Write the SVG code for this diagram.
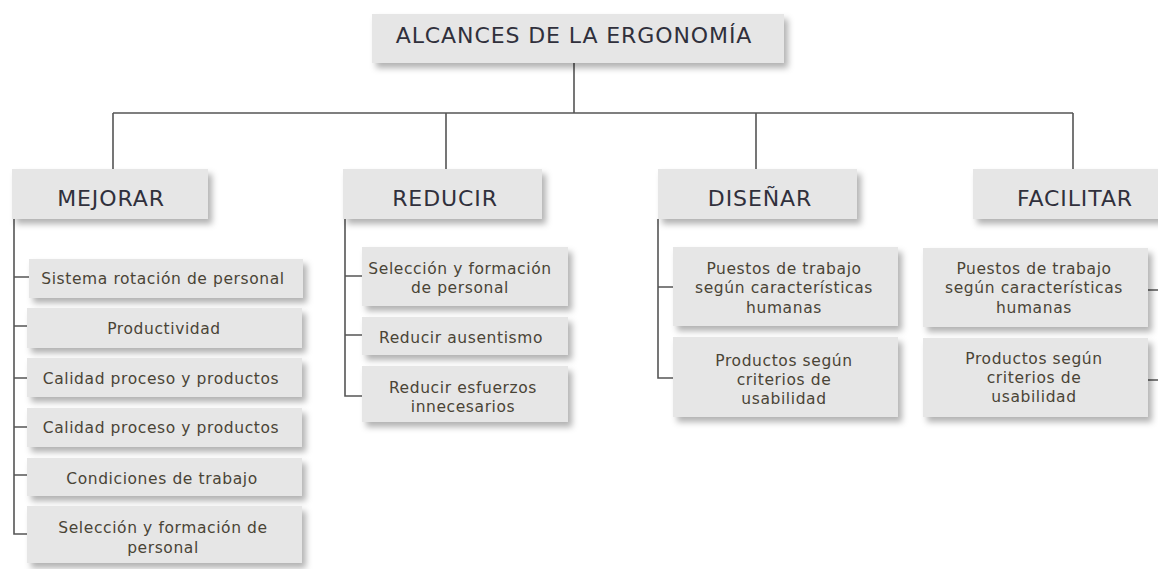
<svg xmlns="http://www.w3.org/2000/svg" width="1158" height="569" viewBox="0 0 1158 569">
<defs>
<filter id="sh" x="-10%" y="-20%" width="125%" height="150%">
<feDropShadow dx="4" dy="5" stdDeviation="3" flood-color="#000" flood-opacity="0.3"/>
</filter>
<style>
.box{fill:#e6e6e6;filter:url(#sh)}
.t1{font-family:"DejaVu Sans",sans-serif;font-size:22px;letter-spacing:0.9px;fill:#30303c;text-anchor:middle}
.t2{font-family:"DejaVu Sans",sans-serif;font-size:15.5px;letter-spacing:0.6px;fill:#4a4436;text-anchor:middle}
.ln{stroke:#555;stroke-width:1.6;fill:none}
</style>
</defs>
<rect width="1158" height="569" fill="#fff"/>
<g id="connectors">
<path class="ln" d="M574 63V113M113 113H1073M113 113V169M446 113V169M756 113V169M1073 113V169"/>
<path class="ln" d="M14 219V534H28M14 277H29M14 326H27M14 378H27M14 427H27M14 475H27"/>
<path class="ln" d="M345 219V396H362M345 276H362M345 335H362"/>
<path class="ln" d="M658 219V378H673M658 287H673"/>
<path class="ln" d="M1148 290H1162M1148 380H1162"/>
</g>
<g id="root"><rect class="box" x="372" y="14" width="412" height="49"/><text class="t1" x="574" y="43">ALCANCES DE LA ERGONOMÍA</text></g>
<g id="mejorar"><rect class="box" x="12" y="169" width="196" height="50"/><text class="t1" x="111" y="206">MEJORAR</text></g>
<g id="reducir"><rect class="box" x="343" y="169" width="199" height="50"/><text class="t1" x="445" y="206">REDUCIR</text></g>
<g id="disenar"><rect class="box" x="658" y="169" width="199" height="50"/><text class="t1" x="760" y="206">DISEÑAR</text></g>
<g id="facilitar"><rect class="box" x="973" y="169" width="200" height="50"/><text class="t1" x="1075" y="206">FACILITAR</text></g>

<g id="m1"><rect class="box" x="29" y="259" width="274" height="39"/><text class="t2" x="163" y="284">Sistema rotación de personal</text></g>
<g id="m2"><rect class="box" x="27" y="308" width="275" height="40"/><text class="t2" x="164" y="334">Productividad</text></g>
<g id="m3"><rect class="box" x="27" y="358" width="275" height="39"/><text class="t2" x="161" y="384">Calidad proceso y productos</text></g>
<g id="m4"><rect class="box" x="27" y="408" width="275" height="39"/><text class="t2" x="161" y="433">Calidad proceso y productos</text></g>
<g id="m5"><rect class="box" x="27" y="458" width="275" height="38"/><text class="t2" x="162" y="484">Condiciones de trabajo</text></g>
<g id="m6"><rect class="box" x="27" y="506" width="275" height="57"/><text class="t2" x="163" y="533">Selección y formación de</text><text class="t2" x="163" y="553">personal</text></g>

<g id="r1"><rect class="box" x="362" y="247" width="206" height="59"/><text class="t2" x="460" y="274">Selección y formación</text><text class="t2" x="460" y="293">de personal</text></g>
<g id="r2"><rect class="box" x="362" y="317" width="206" height="38"/><text class="t2" x="461" y="343">Reducir ausentismo</text></g>
<g id="r3"><rect class="box" x="362" y="366" width="206" height="56"/><text class="t2" x="463" y="393">Reducir esfuerzos</text><text class="t2" x="463" y="412">innecesarios</text></g>

<g id="d1"><rect class="box" x="673" y="247" width="225" height="79"/><text class="t2" x="784" y="274">Puestos de trabajo</text><text class="t2" x="784" y="293">según características</text><text class="t2" x="784" y="313">humanas</text></g>
<g id="d2"><rect class="box" x="673" y="337" width="225" height="80"/><text class="t2" x="784" y="366">Productos según</text><text class="t2" x="784" y="385">criterios de</text><text class="t2" x="784" y="404">usabilidad</text></g>

<g id="f1"><rect class="box" x="923" y="248" width="225" height="79"/><text class="t2" x="1034" y="274">Puestos de trabajo</text><text class="t2" x="1034" y="293">según características</text><text class="t2" x="1034" y="313">humanas</text></g>
<g id="f2"><rect class="box" x="923" y="338" width="225" height="79"/><text class="t2" x="1034" y="364">Productos según</text><text class="t2" x="1034" y="383">criterios de</text><text class="t2" x="1034" y="402">usabilidad</text></g>
</svg>
